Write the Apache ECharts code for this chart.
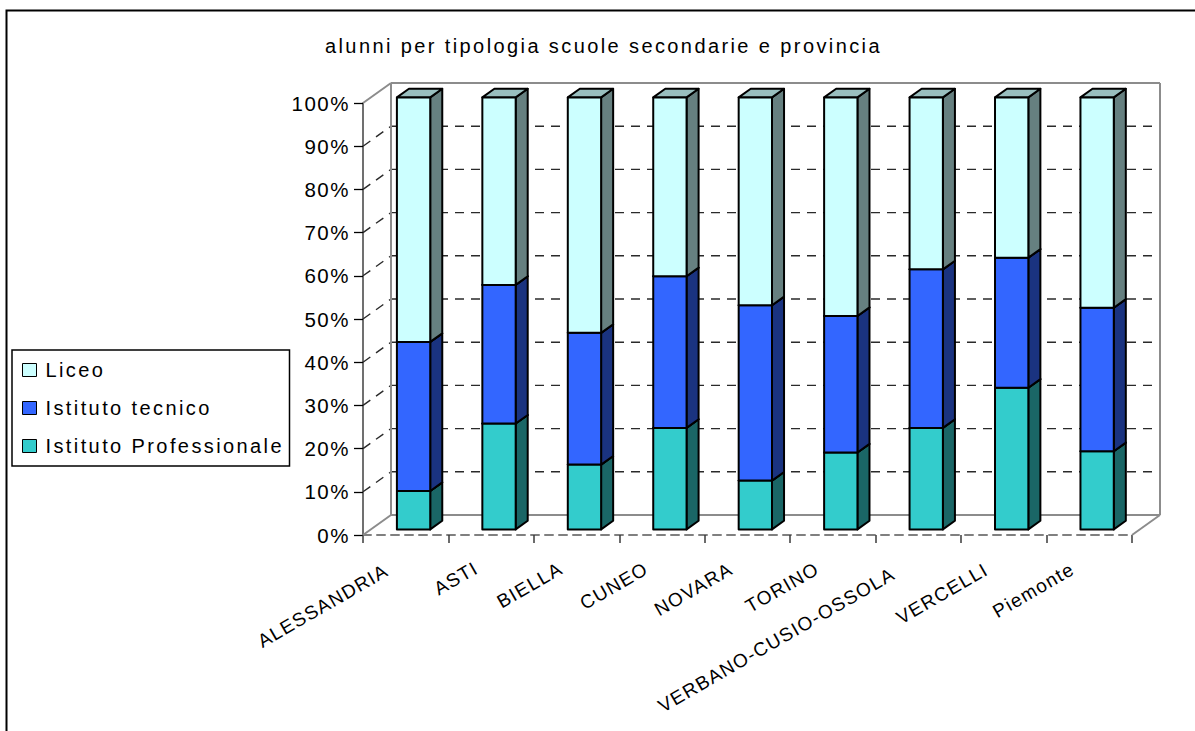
<!DOCTYPE html>
<html>
<head>
<meta charset="utf-8">
<script src="https://cdn.jsdelivr.net/npm/echarts@6/dist/echarts.min.js"></script>
<style>
  html, body { margin: 0; padding: 0; background: #ffffff; }
  #chart { width: 1195px; height: 731px; }
  /* wide, evenly tracked lettering for the chart texts */
  #chart text[style*="20px"] { letter-spacing: 2.4px; }
  #chart text[style*="20.5px"] { letter-spacing: 1.5px; }
  #chart text[style*="19px"] { letter-spacing: 1.3px; }
</style>
</head>
<body>
<div id="chart"></div>
<script>
// Province categories and the share (%) of secondary-school pupils per school type
const categories = ['ALESSANDRIA', 'ASTI', 'BIELLA', 'CUNEO', 'NOVARA', 'TORINO', 'VERBANO-CUSIO-OSSOLA', 'VERCELLI', 'Piemonte'];
const professionale = [8.9, 24.5, 15.0, 23.5, 11.3, 17.8, 23.5, 32.8, 18.1];
const tecnico = [34.5, 32.1, 30.5, 35.1, 40.6, 31.6, 36.7, 30.1, 33.2];
const liceo = [56.6, 43.4, 54.5, 41.4, 48.1, 50.6, 39.8, 37.1, 48.7];
const yTicks = [0, 10, 20, 30, 40, 50, 60, 70, 80, 90, 100];

const FONT = 'Liberation Sans, Arial, sans-serif';

// pseudo-3D box geometry (pixels / fractions of the category band)
const DEPTH_X = 28, DEPTH_Y = -20;   // offset from front plane to back wall
const BAR_FRONT = 0.28, BAR_BACK = 0.71; // bar position inside the depth
const BAR_W = 0.39;                 // bar width as fraction of category band

// running stack: [categoryIndex, base, top]
function stackData(values, bases) {
  return values.map((v, i) => [i, bases[i], bases[i] + v]);
}
const zeros = categories.map(() => 0);
const profData = stackData(professionale, zeros);
const tecData = stackData(tecnico, profData.map(d => d[2]));
const licData = stackData(liceo, tecData.map(d => d[2]));

function boxRenderer(front, side, top) {
  return function (params, api) {
    const i = api.value(0), lo = api.value(1), hi = api.value(2);
    const p0 = api.coord([i, lo]);
    const p1 = api.coord([i, hi]);
    const cw = api.size([1, 0])[0];
    const w = cw * BAR_W;
    const ox = DEPTH_X * BAR_FRONT, oy = DEPTH_Y * BAR_FRONT;
    const bx = DEPTH_X * (BAR_BACK - BAR_FRONT), by = DEPTH_Y * (BAR_BACK - BAR_FRONT);
    const xl = p0[0] - w / 2 + ox, xr = xl + w;
    const yb = p0[1] + oy, yt = p1[1] + oy;
    const edge = { stroke: '#000', lineWidth: 2, lineJoin: 'round' };
    return {
      type: 'group',
      children: [
        { type: 'polygon', shape: { points: [[xr, yb], [xr + bx, yb + by], [xr + bx, yt + by], [xr, yt]] },
          style: Object.assign({ fill: side }, edge) },
        { type: 'polygon', shape: { points: [[xl, yt], [xr, yt], [xr + bx, yt + by], [xl + bx, yt + by]] },
          style: Object.assign({ fill: top }, edge) },
        { type: 'rect', shape: { x: xl, y: yt, width: w, height: yb - yt },
          style: Object.assign({ fill: front }, edge) }
      ]
    };
  };
}

// back wall, side wall and floor of the 3D frame
function frameRenderer(params, api) {
  const cs = params.coordSys;
  const v = api.value(1);
  const y = api.coord([0, v])[1];
  const y0 = api.coord([0, 0])[1];
  const gx = cs.x, gw = cs.width;
  const edgeLine = v === 0 || v === 100;
  const style = edgeLine
    ? { stroke: '#8c8c8c', lineWidth: 2 }
    : { stroke: '#2a2a2a', lineWidth: 1.4, lineDash: [9, 7] };
  const children = [
    { type: 'line', shape: { x1: gx + DEPTH_X, y1: y + DEPTH_Y, x2: gx + gw + DEPTH_X, y2: y + DEPTH_Y }, style: style },
    { type: 'line', shape: { x1: gx, y1: y, x2: gx + DEPTH_X, y2: y + DEPTH_Y }, style: style }
  ];
  if (v === 0) {
    children.push({ type: 'line', shape: { x1: gx + gw, y1: y, x2: gx + gw + DEPTH_X, y2: y + DEPTH_Y }, style: style });
  }
  if (v === 100) {
    children.push({ type: 'line', shape: { x1: gx + DEPTH_X, y1: y + DEPTH_Y, x2: gx + DEPTH_X, y2: y0 + DEPTH_Y }, style: style });
    children.push({ type: 'line', shape: { x1: gx + gw + DEPTH_X, y1: y + DEPTH_Y, x2: gx + gw + DEPTH_X, y2: y0 + DEPTH_Y }, style: style });
  }
  return { type: 'group', children: children };
}

// rotated category labels sit a little left of their band, more so for longer names
const measureCtx = document.createElement('canvas').getContext('2d');
measureCtx.font = '19px ' + FONT;
const labelRich = {};
categories.forEach((c, i) => {
  const wText = measureCtx.measureText(c).width;
  labelRich['c' + i] = { padding: [0, Math.round(14 + 0.06 * wText), 0, 0], fontSize: 19, fontFamily: FONT, color: '#000' };
});

const chart = echarts.init(document.getElementById('chart'), null, { renderer: 'svg' });
chart.setOption({
  animation: false,
  backgroundColor: '#ffffff',
  title: {
    text: 'alunni per tipologia scuole secondarie e provincia',
    left: 325, top: 36, padding: 0,
    textStyle: { fontFamily: FONT, fontSize: 20, fontWeight: 'normal', color: '#000' }
  },
  legend: {
    orient: 'vertical', left: 12, top: 350,
    data: ['Liceo', 'Istituto tecnico', 'Istituto Professionale'],
    icon: 'rect', itemWidth: 14, itemHeight: 13, itemGap: 16,
    padding: [9, 6, 9, 10],
    borderColor: '#000', borderWidth: 1.5, borderRadius: 0,
    itemStyle: { borderColor: '#000', borderWidth: 1 },
    textStyle: { fontFamily: FONT, fontSize: 20, lineHeight: 22, width: 238, color: '#000', padding: [0, 0, 0, 4] }
  },
  grid: { left: 363, top: 103, width: 769, height: 432, containLabel: false },
  xAxis: {
    type: 'category', data: categories, boundaryGap: true,
    axisLine: { lineStyle: { color: '#808080', width: 2, type: [8, 6] } },
    axisTick: { show: true, length: 8, lineStyle: { color: '#3a3a3a', width: 1.5 } },
    axisLabel: {
      interval: 0, rotate: 30, margin: 23,
      formatter: (value, idx) => '{c' + idx + '|' + value + '}',
      rich: labelRich
    },
    splitLine: { show: false }
  },
  yAxis: {
    type: 'value', min: 0, max: 100, interval: 10,
    axisLine: { show: true, lineStyle: { color: '#404040', width: 1.5 } },
    axisTick: { show: true, length: 9, lineStyle: { color: '#000', width: 1.3 } },
    axisLabel: { formatter: '{value}%', fontFamily: FONT, fontSize: 20.5, color: '#000', margin: 13 },
    splitLine: { show: false }
  },
  graphic: [{
    type: 'rect', shape: { x: 6.5, y: 10.5, width: 1400, height: 1000 },
    style: { fill: 'none', stroke: '#000', lineWidth: 2 }, silent: true, z: 100
  }],
  series: [
    {
      type: 'custom', name: 'frame', silent: true, z: 1,
      data: yTicks.map(v => [0, v]),
      encode: { x: 0, y: 1 },
      renderItem: frameRenderer
    },
    {
      type: 'custom', name: 'Istituto Professionale', z: 2,
      itemStyle: { color: '#33CCCC' },
      data: profData, encode: { x: 0, y: [1, 2] },
      renderItem: boxRenderer('#33CCCC', '#1A6666', '#269999')
    },
    {
      type: 'custom', name: 'Istituto tecnico', z: 2,
      itemStyle: { color: '#3366FF' },
      data: tecData, encode: { x: 0, y: [1, 2] },
      renderItem: boxRenderer('#3366FF', '#1A3380', '#264CBF')
    },
    {
      type: 'custom', name: 'Liceo', z: 2,
      itemStyle: { color: '#CCFFFF' },
      data: licData, encode: { x: 0, y: [1, 2] },
      renderItem: boxRenderer('#CCFFFF', '#668080', '#99BFBF')
    }
  ]
});
</script>
</body>
</html>
